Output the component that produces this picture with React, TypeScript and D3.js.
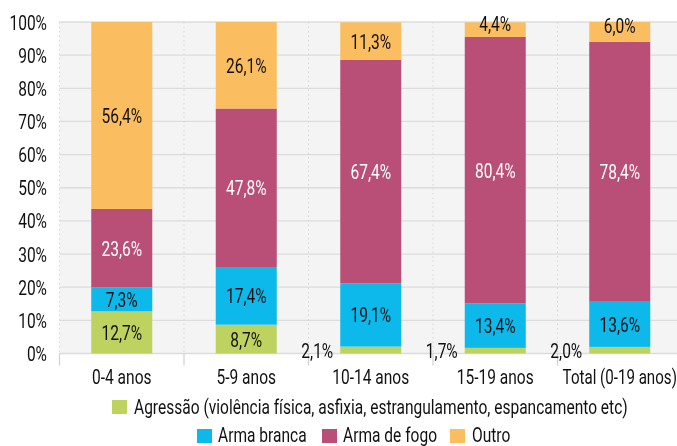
import React from "react";
import * as d3 from "d3";

const categories = ["0-4 anos", "5-9 anos", "10-14 anos", "15-19 anos", "Total (0-19 anos)"];
const seriesNames = [
  "Agressão (violência física, asfixia, estrangulamento, espancamento etc)",
  "Arma branca",
  "Arma de fogo",
  "Outro",
];
const agressao = [12.7, 8.7, 2.1, 1.7, 2.0];
const armaBranca = [7.3, 17.4, 19.1, 13.4, 13.6];
const armaFogo = [23.6, 47.8, 67.4, 80.4, 78.4];
const outro = [56.4, 26.1, 11.3, 4.4, 6.0];
const yTicks = [0, 10, 20, 30, 40, 50, 60, 70, 80, 90, 100];

const colors = ["#bed35f", "#0db8eb", "#b94f76", "#fabd5f"];
const textColors = ["#111", "#111", "#fff", "#111"];
const FONT = "Roboto, 'Liberation Sans', sans-serif";
const SX = 0.74;
const FS = 21;

const fmt = (v: number) => v.toFixed(1).replace(".", ",") + "%";

function T({ x, y, anchor = "start", fill = "#111", weight = 400, sx = SX, children }: { x: number; y: number; anchor?: string; fill?: string; weight?: number; sx?: number; children: any }) {
  return (
    <g transform={`translate(${x},${y}) scale(${sx},1)`}>
      <text x={0} y={0} textAnchor={anchor as any} fontSize={FS} fontWeight={weight} fill={fill}>
        {children}
      </text>
    </g>
  );
}

export default function App() {
  const W = 677, H = 446;
  const left = 59.5, right = 682, top = 22, bottom = 353.5;
  const x = d3.scaleBand<string>().domain(categories).range([left, right]).paddingInner(0.51).paddingOuter(0.255);
  const y = d3.scaleLinear().domain([0, 100]).range([bottom, top]);
  const series = [agressao, armaBranca, armaFogo, outro];
  const rows = categories.map((c, i) => ({ cat: c, v: series.map((s) => s[i]) }));
  const step = (right - left) / categories.length;

  return (
    <div style={{ position: "fixed", left: 0, top: 0, width: W, height: H, overflow: "hidden" }}>
      <svg width={W} height={H} style={{ display: "block", fontFamily: FONT }}>
        <rect x={left} y={top} width={right - left} height={bottom - top} fill="#f4f4f4" />
        {yTicks.map((t) => (
          <line key={t} x1={left} x2={right} y1={y(t)} y2={y(t)} stroke="#dcdcdc" strokeWidth={1.3} />
        ))}
        {categories.map((c, i) =>
          i === 0 ? null : (
            <line key={c} x1={left + i * step} x2={left + i * step} y1={top} y2={bottom}
              stroke="#d6d6d6" strokeWidth={1} strokeDasharray="1.5,3" />
          )
        )}
        {categories.map((c, i) => (
          <line key={"t" + c} x1={left + i * step} x2={left + i * step} y1={bottom} y2={bottom + 12}
            stroke="#d0d0d0" strokeWidth={1.2} />
        ))}
        <line x1={left} x2={left} y1={top} y2={bottom} stroke="#d6d6d6" strokeWidth={1} strokeDasharray="1.5,3" />
        {yTicks.map((t) => (
          <T key={"l" + t} x={47} y={y(t) + 7.5} anchor="end">{t + "%"}</T>
        ))}
        {rows.map((r) => {
          let acc = 0;
          const bx = x(r.cat)!;
          const bw = x.bandwidth();
          return (
            <g key={r.cat}>
              {r.v.map((v, k) => {
                const y0 = y(acc);
                const y1 = y(acc + v);
                acc += v;
                return <rect key={k} x={bx} y={y1} width={bw} height={y0 - y1} fill={colors[k]} />;
              })}
            </g>
          );
        })}
        {rows.map((r) => {
          let acc = 0;
          const bx = x(r.cat)!;
          const bw = x.bandwidth();
          return (
            <g key={"lab" + r.cat}>
              {r.v.map((v, k) => {
                const y0 = y(acc);
                const y1 = y(acc + v);
                acc += v;
                const h = y0 - y1;
                if (k === 0 && v < 5) {
                  return <T key={k} x={bx - 7} y={bottom + 4} anchor="end">{fmt(v)}</T>;
                }
                const cy = (y0 + y1) / 2;
                const by = h < 21 ? cy + 1 : cy + 7.5;
                return (
                  <T key={k} x={bx + bw / 2} y={by} anchor="middle" fill={textColors[k]}>{fmt(v)}</T>
                );
              })}
            </g>
          );
        })}
        {categories.map((c, i) => (
          <T key={"x" + c} x={x(c)! + x.bandwidth() / 2} y={384} anchor="middle" sx={i === 4 ? 0.72 : SX}>{c}</T>
        ))}
        <rect x={112} y={400} width={15} height={14} fill={colors[0]} />
        <T x={134} y={414}>{seriesNames[0]}</T>
        <rect x={197} y={429} width={15} height={14} fill={colors[1]} />
        <T x={218} y={441.5}>{seriesNames[1]}</T>
        <rect x={322} y={429} width={15} height={14} fill={colors[2]} />
        <T x={343} y={441.5}>{seriesNames[2]}</T>
        <rect x={450} y={429} width={15} height={14} fill={colors[3]} />
        <T x={472} y={441.5}>{seriesNames[3]}</T>
      </svg>
    </div>
  );
}
